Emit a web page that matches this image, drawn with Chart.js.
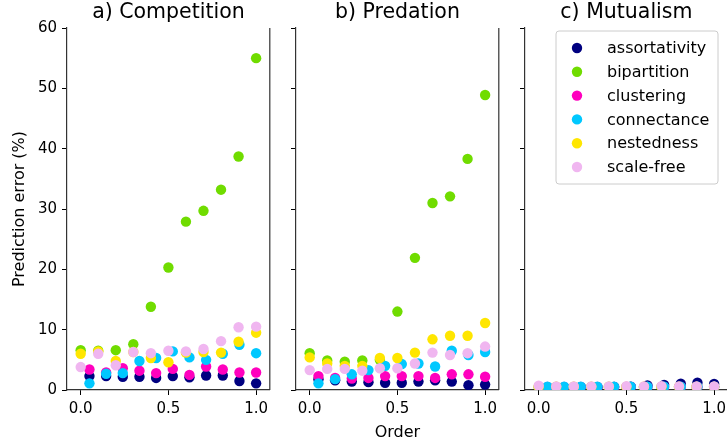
<!DOCTYPE html>
<html lang="en">
<head>
  <meta charset="UTF-8">
  <title>Prediction error by order</title>
  <script src="https://cdn.jsdelivr.net/npm/chart.js"></script>
  <style>
    html, body { margin: 0; padding: 0; background: #fff; overflow: hidden; }
    #wrap { position: relative; width: 727px; height: 444px; overflow: hidden; }
    canvas { position: absolute; top: 0; }
  </style>
</head>
<body>
  <div id="wrap">
    <canvas id="panelA" width="275" height="444" style="left:0px"></canvas>
    <canvas id="panelB" width="218" height="444" style="left:286px"></canvas>
    <canvas id="panelC" width="218" height="444" style="left:515px"></canvas>
  </div>

  <script>
    const seriesNames = ['assortativity', 'bipartition', 'clustering', 'connectance', 'nestedness', 'scale-free'];
    const seriesColors = ['#000080', '#70dc00', '#ff00be', '#00c8ff', '#ffe600', '#f0b6f0'];
    // some series were plotted on a slightly shifted order grid
    const onShiftedGrid = [true, false, true, true, false, false];
    const orderGrid = [0, 0.1, 0.2, 0.3, 0.4, 0.5, 0.6, 0.7, 0.8, 0.9, 1.0];
    const shiftedGrid = [0.05, 0.145, 0.24, 0.335, 0.43, 0.525, 0.62, 0.715, 0.81, 0.905, 1.0];
    const xTicks = [0, 0.5, 1];
    const panelTitles = ['a) Competition', 'b) Predation', 'c) Mutualism'];

    // prediction error (%), one row per series, same order as seriesNames
    const competition = [
      [2.3, 2.3, 2.2, 2.2, 2.0, 2.3, 2.1, 2.4, 2.4, 1.5, 1.1],
      [6.6, 6.5, 6.6, 7.6, 13.8, 20.3, 27.9, 29.7, 33.2, 38.7, 55.0],
      [3.4, 2.9, 3.6, 3.2, 2.8, 3.5, 2.5, 3.9, 3.4, 2.9, 2.9],
      [1.1, 2.7, 2.8, 4.8, 5.3, 6.4, 5.4, 5.0, 6.0, 7.5, 6.1],
      [6.0, 6.4, 4.8, 6.3, 5.3, 4.6, 6.2, 6.3, 6.2, 8.0, 9.5],
      [3.8, 6.0, 4.1, 6.3, 6.1, 6.5, 6.4, 6.8, 8.1, 10.4, 10.5]
    ];
    const predation = [
      [1.8, 1.6, 1.4, 1.3, 1.2, 1.2, 1.4, 1.6, 1.4, 0.8, 0.9],
      [6.1, 4.9, 4.7, 4.9, 5.0, 13.0, 21.9, 31.0, 32.1, 38.3, 48.9],
      [2.3, 2.0, 1.9, 2.0, 2.3, 2.3, 2.3, 2.0, 2.6, 2.6, 2.2],
      [1.1, 1.8, 2.6, 3.3, 4.0, 4.3, 4.4, 3.9, 6.5, 5.8, 6.3],
      [5.4, 4.4, 4.0, 4.0, 5.3, 5.3, 6.2, 8.4, 9.0, 9.0, 11.1],
      [3.3, 3.5, 3.5, 3.2, 3.6, 3.6, 4.4, 6.2, 5.8, 6.1, 7.2]
    ];
    const mutualism = [
      [0.4, 0.4, 0.45, 0.45, 0.5, 0.55, 0.75, 0.85, 1.05, 1.2, 1.0],
      [0.5, 0.5, 0.5, 0.5, 0.5, 0.5, 0.5, 0.5, 0.5, 0.5, 0.5],
      [0.5, 0.5, 0.5, 0.5, 0.5, 0.5, 0.5, 0.5, 0.5, 0.5, 0.5],
      [0.55, 0.55, 0.55, 0.55, 0.55, 0.55, 0.55, 0.55, 0.55, 0.55, 0.55],
      [0.55, 0.55, 0.55, 0.55, 0.55, 0.55, 0.55, 0.55, 0.55, 0.55, 0.55],
      [0.7, 0.6, 0.6, 0.6, 0.6, 0.65, 0.6, 0.65, 0.6, 0.6, 0.6]
    ];

    Chart.defaults.font.family = '"DejaVu Sans", sans-serif';
    Chart.defaults.color = '#000';

    const spineColor = '#333';

    // panel title + right spine
    const panelFrame = {
      id: 'panelFrame',
      afterDraw(chart, args, opts) {
        const { ctx, chartArea: a } = chart;
        ctx.save();
        ctx.strokeStyle = spineColor;
        ctx.lineWidth = 1.2;
        ctx.beginPath();
        ctx.moveTo(a.right, a.top);
        ctx.lineTo(a.right, a.bottom);
        ctx.stroke();
        ctx.fillStyle = '#000';
        ctx.font = '20.5px "DejaVu Sans"';
        ctx.textAlign = 'center';
        ctx.textBaseline = 'middle';
        ctx.fillText(opts.title, (a.left + a.right) / 2, 13);
        ctx.restore();
      }
    };

    // legend box drawn inside panel c
    const insetLegend = {
      id: 'insetLegend',
      afterDraw(chart, args, opts) {
        if (!opts.show) return;
        const ctx = chart.ctx;
        const x = 41, y = 31, w = 162, h = 153;
        ctx.save();
        ctx.beginPath();
        ctx.roundRect(x, y, w, h, 3);
        ctx.fillStyle = 'rgba(255,255,255,0.85)';
        ctx.fill();
        ctx.strokeStyle = '#cccccc';
        ctx.lineWidth = 1;
        ctx.stroke();
        ctx.font = '16px "DejaVu Sans"';
        ctx.textBaseline = 'middle';
        chart.data.datasets.forEach((ds, i) => {
          const cy = y + 17 + i * 23.8;
          ctx.beginPath();
          ctx.arc(x + 21, cy, 5.2, 0, Math.PI * 2);
          ctx.fillStyle = ds.backgroundColor;
          ctx.fill();
          ctx.fillStyle = '#000';
          ctx.fillText(ds.label, x + 51, cy + 1);
        });
        ctx.restore();
      }
    };

    function makeDatasets(values) {
      return seriesNames.map((name, i) => {
        const grid = onShiftedGrid[i] ? shiftedGrid : orderGrid;
        return {
          label: name,
          data: values[i].map((v, k) => ({ x: grid[k], y: v })),
          backgroundColor: seriesColors[i],
          borderWidth: 0,
          pointRadius: 5.2,
          pointHoverRadius: 5.2,
          order: seriesNames.length - i,
        };
      });
    }

    function makePanel(id, values, idx) {
      const first = idx === 0;
      const middle = idx === 1;
      return new Chart(document.getElementById(id), {
        type: 'scatter',
        data: { datasets: makeDatasets(values) },
        plugins: [panelFrame, insetLegend],
        options: {
          responsive: false,
          animation: false,
          events: [],
          layout: { padding: { left: 0, right: 5, top: 28, bottom: 0 } },
          scales: {
            x: {
              type: 'linear',
              min: -0.078,
              max: 1.078,
              afterBuildTicks: (s) => { s.ticks = xTicks.map(v => ({ value: v })); },
              ticks: { callback: (v) => v.toFixed(1), padding: 5, font: { size: 15 }, maxRotation: 0, autoSkip: false },
              grid: { drawOnChartArea: false, drawTicks: true, tickLength: 5, color: '#000' },
              border: { color: spineColor, width: 1.2 },
              title: { display: middle, text: 'Order', font: { size: 16 }, padding: { top: 0, bottom: 2 } },
              afterFit: (s) => { s.height = 54; },
            },
            y: {
              min: 0,
              max: 60,
              ticks: { display: first, stepSize: 10, padding: 5, font: { size: 15 } },
              grid: { drawOnChartArea: false, drawTicks: true, tickLength: 5, color: '#000' },
              border: { color: spineColor, width: 1.2 },
              title: { display: first, text: 'Prediction error (%)', font: { size: 16 }, padding: { top: 10, bottom: 0 } },
              afterFit: (s) => { s.width = first ? 67 : 10; },
            },
          },
          plugins: {
            legend: { display: false },
            tooltip: { enabled: false },
            panelFrame: { title: panelTitles[idx] },
            insetLegend: { show: idx === 2 },
          },
        },
      });
    }

    makePanel('panelA', competition, 0);
    makePanel('panelB', predation, 1);
    makePanel('panelC', mutualism, 2);
  </script>
</body>
</html>
